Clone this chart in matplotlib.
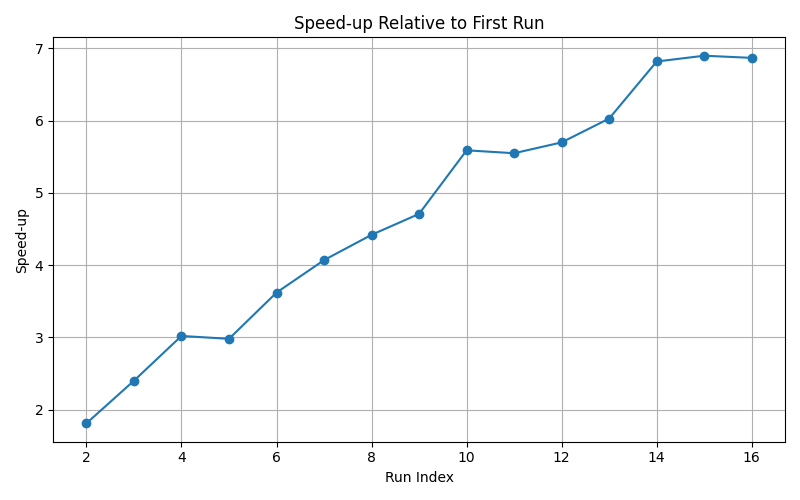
import matplotlib
matplotlib.use("Agg")
import matplotlib.pyplot as plt

run_index = [2, 3, 4, 5, 6, 7, 8, 9, 10, 11, 12, 13, 14, 15, 16]
speedup = [1.81, 2.40, 3.02, 2.98, 3.62, 4.07, 4.42, 4.71, 5.59, 5.55, 5.70, 6.03, 6.82, 6.90, 6.87]

fig, ax = plt.subplots(figsize=(8, 5), dpi=100)
ax.plot(run_index, speedup, marker='o')
ax.set_title("Speed-up Relative to First Run")
ax.set_xlabel("Run Index")
ax.set_ylabel("Speed-up")
ax.grid(True)
fig.tight_layout()
fig.savefig("out.png")
